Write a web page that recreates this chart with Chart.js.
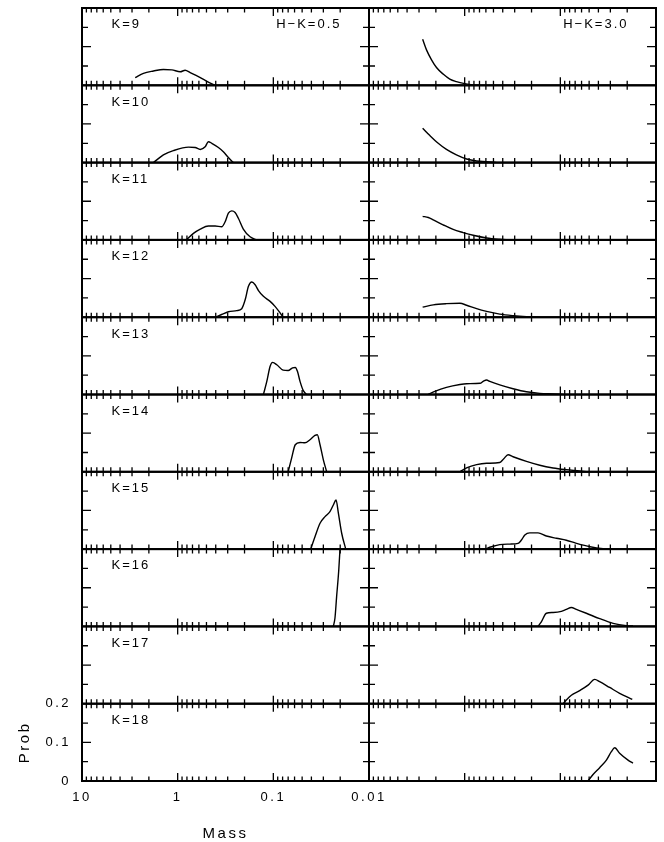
<!DOCTYPE html>
<html>
<head>
<meta charset="utf-8">
<script src="https://cdn.jsdelivr.net/npm/chart.js@4.4.1/dist/chart.umd.min.js"></script>
<style>
html, body { margin: 0; padding: 0; background: #fff; }
#fig { position: relative; width: 664px; height: 842px; overflow: hidden; }
#fig canvas { position: absolute; }
</style>
</head>
<body>
<div id="fig"></div>
<script>
// panel rows and column labels
var kMags = [9, 10, 11, 12, 13, 14, 15, 16, 17, 18];
var colourLabels = ["H\u2212K=0.5", "H\u2212K=3.0"];

// H-K = 0.5 : mass (Msun) and probability
var m05k09 = [2.78, 2.28, 1.79, 1.41, 1.15, 0.94, 0.835, 0.74, 0.58, 0.50, 0.41];
var p05k09 = [0.020, 0.031, 0.037, 0.041, 0.040, 0.035, 0.039, 0.033, 0.020, 0.011, 0];
var m05k10 = [1.79, 1.41, 1.11, 0.77, 0.656, 0.58, 0.516, 0.477, 0.44, 0.375, 0.333, 0.295, 0.262];
var p05k10 = [0, 0.020, 0.031, 0.040, 0.039, 0.034, 0.041, 0.054, 0.050, 0.039, 0.028, 0.013, 0];
var m05k11 = [0.815, 0.684, 0.58, 0.477, 0.406, 0.347, 0.319, 0.295, 0.272, 0.251, 0.232, 0.206, 0.175, 0.149];
var p05k11 = [0, 0.017, 0.028, 0.036, 0.036, 0.034, 0.047, 0.069, 0.075, 0.071, 0.056, 0.028, 0.008, 0];
var m05k12 = [0.406, 0.347, 0.295, 0.241, 0.214, 0.197, 0.182, 0.168, 0.155, 0.143, 0.127, 0.108, 0.096, 0.085, 0.079];
var p05k12 = [0, 0.007, 0.014, 0.017, 0.022, 0.045, 0.080, 0.091, 0.084, 0.069, 0.054, 0.041, 0.028, 0.011, 0];
var m05k13 = [0.127, 0.117, 0.108, 0.1016, 0.092, 0.079, 0.070, 0.063, 0.059, 0.056, 0.0526, 0.0486, 0.0448];
var p05k13 = [0, 0.034, 0.073, 0.083, 0.077, 0.063, 0.062, 0.069, 0.070, 0.060, 0.034, 0.010, 0];
var m05k14 = [0.070, 0.0643, 0.059, 0.0526, 0.0467, 0.0414, 0.0367, 0.0347, 0.0325, 0.030, 0.0277];
var p05k14 = [0, 0.036, 0.070, 0.076, 0.075, 0.083, 0.094, 0.096, 0.070, 0.031, 0];
var m05k15 = [0.0407, 0.0367, 0.0325, 0.0288, 0.0256, 0.0236, 0.0221, 0.0209, 0.0193, 0.0175];
var p05k15 = [0, 0.032, 0.067, 0.084, 0.097, 0.114, 0.127, 0.093, 0.041, 0];
var m05k16 = [0.0236, 0.0227, 0.0218, 0.0207, 0.0201];
var p05k16 = [0, 0.021, 0.077, 0.146, 0.200];

// H-K = 3.0
var m30k09 = [2.75, 2.50, 2.22, 1.97, 1.68, 1.43, 1.22, 1.0, 0.815, 0.69];
var p30k09 = [0.119, 0.091, 0.066, 0.046, 0.029, 0.016, 0.0095, 0.0043, 0.001, 0];
var m30k10 = [2.75, 2.31, 1.89, 1.55, 1.22, 0.955, 0.75, 0.59, 0.46];
var p30k10 = [0.089, 0.070, 0.050, 0.034, 0.020, 0.0093, 0.0041, 0.0024, 0];
var m30k11 = [2.75, 2.40, 2.13, 1.68, 1.32, 1.04, 0.815, 0.59, 0.43, 0.34];
var p30k11 = [0.061, 0.058, 0.052, 0.039, 0.027, 0.019, 0.012, 0.005, 0.0015, 0];
var m30k12 = [2.75, 2.13, 1.55, 1.12, 0.955, 0.75, 0.59, 0.43, 0.312, 0.226, 0.164];
var p30k12 = [0.026, 0.032, 0.035, 0.036, 0.031, 0.022, 0.015, 0.008, 0.004, 0.0014, 0];
var m30k13 = [2.40, 2.05, 1.55, 1.12, 0.955, 0.69, 0.64, 0.59, 0.546, 0.43, 0.312, 0.226, 0.164, 0.119, 0.094];
var p30k13 = [0, 0.008, 0.0185, 0.026, 0.028, 0.029, 0.034, 0.0375, 0.034, 0.025, 0.015, 0.007, 0.003, 0.0013, 0];
var m30k14 = [1.12, 0.955, 0.75, 0.59, 0.43, 0.39, 0.352, 0.312, 0.226, 0.164, 0.119, 0.0866, 0.0628, 0.0535];
var p30k14 = [0, 0.010, 0.0185, 0.022, 0.024, 0.034, 0.044, 0.039, 0.027, 0.017, 0.010, 0.0055, 0.002, 0];
var m30k15 = [0.616, 0.524, 0.43, 0.337, 0.276, 0.255, 0.235, 0.209, 0.171, 0.140, 0.11, 0.0866, 0.068, 0.049, 0.0358, 0.0281];
var p30k15 = [0, 0.006, 0.0115, 0.013, 0.015, 0.0235, 0.0365, 0.042, 0.042, 0.034, 0.028, 0.023, 0.015, 0.006, 0.001, 0];
var m30k16 = [0.171, 0.158, 0.140, 0.119, 0.0975, 0.0866, 0.0767, 0.068, 0.0535, 0.0388, 0.0281, 0.0204, 0.0174];
var p30k16 = [0, 0.012, 0.034, 0.036, 0.039, 0.044, 0.049, 0.044, 0.034, 0.020, 0.008, 0.002, 0.001];
var m30k17 = [0.0935, 0.0866, 0.0767, 0.0628, 0.0513, 0.0437, 0.0388, 0.0305, 0.024, 0.0177];
var p30k17 = [0, 0.0095, 0.022, 0.034, 0.048, 0.063, 0.057, 0.042, 0.027, 0.011];
var m30k18 = [0.0514, 0.0455, 0.0388, 0.033, 0.0293, 0.027, 0.024, 0.0196, 0.0174];
var p30k18 = [0, 0.017, 0.0345, 0.054, 0.076, 0.086, 0.072, 0.054, 0.046];

// axis ticks
var xMajor = [10, 1, 0.1, 0.01];
var xTickLabels = ["10", "1", "0.1", "0.01"];
var yTicks = [0, 0.1, 0.2];
var yTickLabels = ["0", "0.1", "0.2"];

var leftCurves = [[m05k09, p05k09], [m05k10, p05k10], [m05k11, p05k11], [m05k12, p05k12],
    [m05k13, p05k13], [m05k14, p05k14], [m05k15, p05k15], [m05k16, p05k16], null, null];
var rightCurves = [[m30k09, p30k09], [m30k10, p30k10], [m30k11, p30k11], [m30k12, p30k12],
    [m30k13, p30k13], [m30k14, p30k14], [m30k15, p30k15], [m30k16, p30k16],
    [m30k17, p30k17], [m30k18, p30k18]];

var xMinor = [];
[1, 0.1, 0.01].forEach(function (d) {
    for (var k = 2; k <= 9; k++) xMinor.push(k * d);
});

var FONT = '"Liberation Sans", Arial, Helvetica, sans-serif';

// frame, inward ticks and panel labels
var framePlugin = {
    id: "frame",
    beforeDraw: function (chart) {
        chart.ctx.letterSpacing = "2.5px";
    },
    afterDatasetsDraw: function (chart, args, opts) {
        var ctx = chart.ctx, a = chart.chartArea;
        var xs = chart.scales.x, ys = chart.scales.y;
        ctx.save();
        ctx.strokeStyle = "#000";
        ctx.beginPath();
        function seg(x1, y1, x2, y2) { ctx.moveTo(x1, y1); ctx.lineTo(x2, y2); }
        xMajor.forEach(function (v) {
            var px = xs.getPixelForValue(v);
            seg(px, a.bottom, px, a.bottom - 8);
            seg(px, a.top, px, a.top + 8);
        });
        xMinor.forEach(function (v) {
            var px = xs.getPixelForValue(v);
            seg(px, a.bottom, px, a.bottom - 4.5);
            seg(px, a.top, px, a.top + 4.5);
        });
        [0.05, 0.1, 0.15].forEach(function (v) {
            var py = ys.getPixelForValue(v);
            var len = v === 0.1 ? 9 : 6;
            seg(a.left, py, a.left + len, py);
            seg(a.right, py, a.right - len, py);
        });
        ctx.lineWidth = 1.3;
        ctx.stroke();
        ctx.lineWidth = 2;
        ctx.strokeRect(a.left, a.top, a.right - a.left, a.bottom - a.top);

        ctx.fillStyle = "#000";
        ctx.font = "13px " + FONT;
        ctx.letterSpacing = "2px";
        ctx.textBaseline = "alphabetic";
        if (opts.k) {
            ctx.textAlign = "left";
            ctx.fillText(opts.k, a.left + 29.5, a.top + 20.3);
        }
        if (opts.hk) {
            ctx.textAlign = "right";
            ctx.fillText(opts.hk, a.right - 27.5, a.top + 20.3);
        }
        ctx.restore();
    }
};

var colX = [82, 369];
var panelW = 287;
var top0 = 8;
var rowH = 77.3;
var fig = document.getElementById("fig");

function makePanel(row, col) {
    var curve = col === 0 ? leftCurves[row] : rightCurves[row];
    var withAxes = (col === 0 && row === kMags.length - 1);
    var areaTop = top0 + row * rowH;
    var cTop = Math.floor(areaTop) - 12;
    var padTop = areaTop - cTop;
    var cLeft = withAxes ? 0 : colX[col] - 20;
    var cW = withAxes ? colX[col] + panelW + 30 : panelW + 40;
    var cH = withAxes ? 842 - cTop : Math.ceil(padTop + rowH + 12);
    var padBottom = withAxes ? 0 : cH - padTop - rowH;

    var cv = document.createElement("canvas");
    cv.width = cW;
    cv.height = cH;
    cv.style.left = cLeft + "px";
    cv.style.top = cTop + "px";
    fig.appendChild(cv);

    var datasets = [];
    if (curve) {
        datasets.push({
            data: curve[0].map(function (m, j) { return {x: m, y: curve[1][j]}; }),
            borderColor: "#000",
            borderWidth: 1.4,
            pointRadius: 0,
            fill: false,
            cubicInterpolationMode: "monotone"
        });
    }

    return new Chart(cv, {
        type: "line",
        data: {datasets: datasets},
        options: {
            responsive: false,
            animation: false,
            events: [],
            layout: {padding: {left: withAxes ? 0 : 20, right: withAxes ? 30 : 20, top: padTop, bottom: padBottom}},
            plugins: {
                legend: {display: false},
                tooltip: {enabled: false},
                frame: {
                    k: col === 0 ? "K=" + kMags[row] : "",
                    hk: row === 0 ? colourLabels[col] : ""
                }
            },
            scales: {
                x: {
                    type: "logarithmic",
                    reverse: true,
                    min: 0.01,
                    max: 10,
                    display: withAxes,
                    grid: {display: false, drawTicks: false},
                    border: {display: false},
                    afterBuildTicks: function (s) {
                        s.ticks = xMajor.map(function (v) { return {value: v}; });
                    },
                    afterFit: function (s) {
                        s.height = withAxes ? 61 : 0;
                        s.paddingLeft = 0;
                        s.paddingRight = 0;
                    },
                    ticks: {
                        autoSkip: false,
                        maxRotation: 0,
                        padding: 9,
                        color: "#000",
                        font: {family: FONT, size: 13},
                        callback: function (v) {
                            return xTickLabels[Math.round(1 - Math.log10(v))];
                        }
                    },
                    title: {
                        display: true,
                        text: "Mass",
                        color: "#000",
                        font: {family: FONT, size: 15, lineHeight: 1},
                        padding: {top: 0, bottom: 0.5}
                    }
                },
                y: {
                    type: "linear",
                    min: 0,
                    max: 0.2,
                    display: withAxes,
                    grid: {display: false, drawTicks: false},
                    border: {display: false},
                    afterBuildTicks: function (s) {
                        s.ticks = yTicks.map(function (v) { return {value: v}; });
                    },
                    afterFit: function (s) {
                        s.width = withAxes ? colX[0] : 0;
                        s.paddingTop = 0;
                        s.paddingBottom = 0;
                    },
                    ticks: {
                        padding: 11,
                        color: "#000",
                        font: {family: FONT, size: 13},
                        callback: function (v) {
                            return yTickLabels[Math.round(v * 10)];
                        }
                    },
                    title: {
                        display: true,
                        text: "Prob",
                        color: "#000",
                        font: {family: FONT, size: 15, lineHeight: 1},
                        padding: {top: 17.5, bottom: 0}
                    }
                }
            }
        },
        plugins: [framePlugin]
    });
}

for (var r = 0; r < kMags.length; r++) {
    makePanel(r, 0);
    makePanel(r, 1);
}
</script>
</body>
</html>
